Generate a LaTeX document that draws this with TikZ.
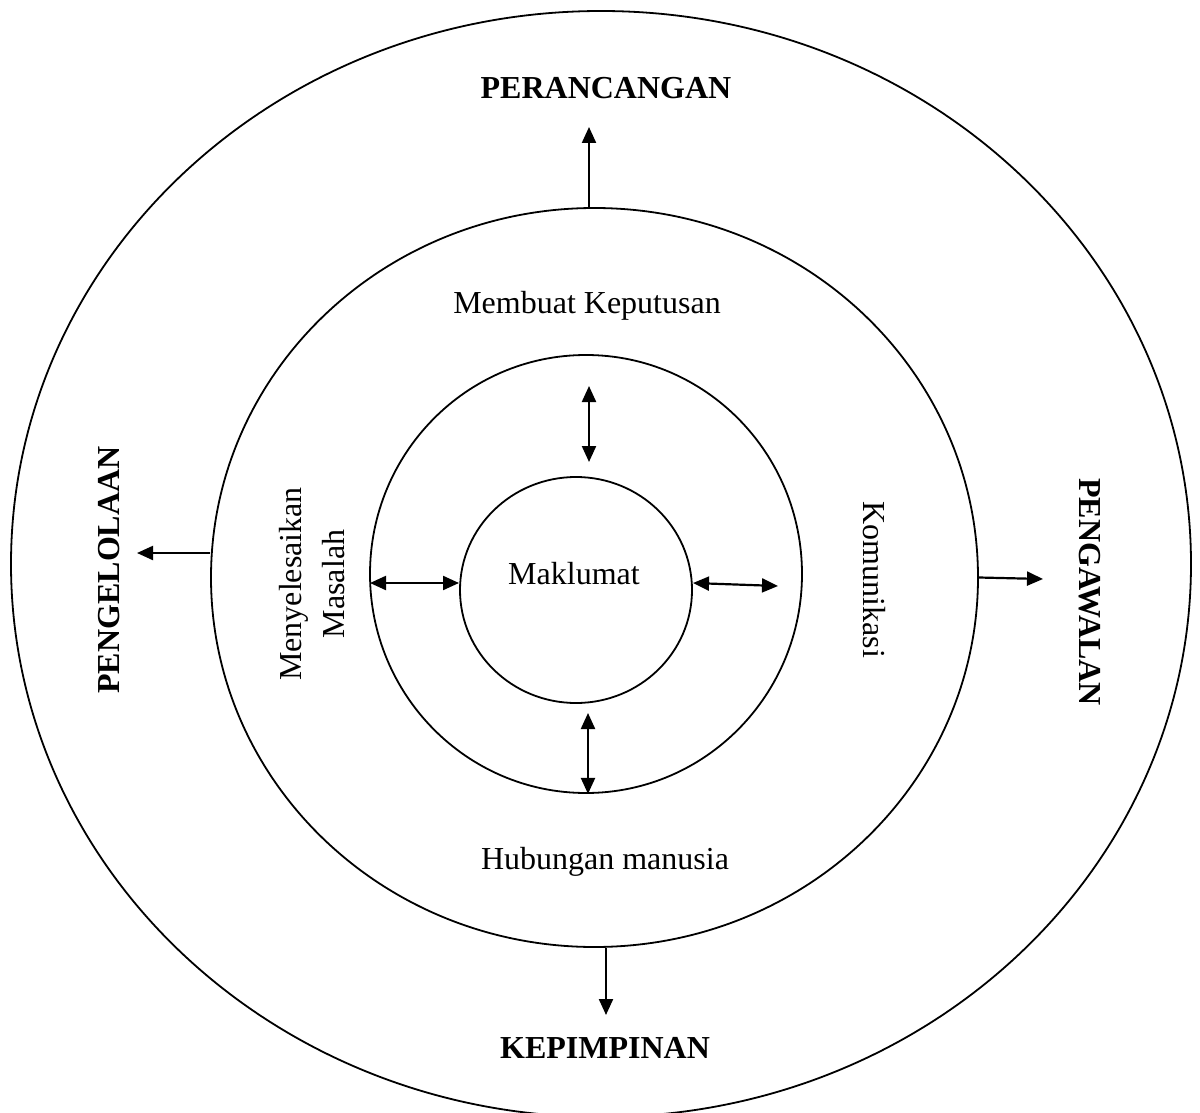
\documentclass[tikz,border=0pt]{standalone}
\usepackage{fontspec}
\setmainfont{Liberation Serif}
\usetikzlibrary{shapes.geometric,arrows.meta}

\begin{document}
\begin{tikzpicture}[
  x=0.5pt, y=-0.5pt,
  ring/.style={draw, ellipse, line width=0.9pt, inner sep=0pt},
  txt/.style={font=\fontsize{16}{21.5}\selectfont, align=center, inner sep=0pt},
  head/.style={font=\fontsize{16}{19}\selectfont\bfseries, inner sep=0pt},
  arr/.style={-{Triangle[length=8pt,width=7pt]}, line width=1.1pt},
  dbl/.style={{Triangle[length=8pt,width=7pt]}-{Triangle[length=8pt,width=7pt]}, line width=1.1pt}
]
\useasboundingbox (0,0) rectangle (1200,1113);

% Rings
\node[ring, minimum width=590pt, minimum height=553pt] (outer) at (601,564) {};
\node[ring, minimum width=383.5pt, minimum height=369.5pt] (mid) at (594.5,577.5) {};
\node[ring, minimum width=216pt, minimum height=219pt] (inner) at (586,574) {};
\node[ring, minimum width=116pt, minimum height=113pt] (core) at (576,590) {};

% Texts
\node[txt] (maklumat) at (574,574) {Maklumat};
\node[txt] (keputusan) at (587,306) {Membuat Keputusan};
\node[txt] (hubungan) at (605,862) {Hubungan manusia};
\node[txt, rotate=90] (masalah) at (312,584) {Menyelesaikan\\Masalah};
\node[txt, rotate=-90] (komunikasi) at (874,580) {Komunikasi};

% Outer labels
\node[head] (perancangan) at (606,88) {PERANCANGAN};
\node[head] (kepimpinan) at (605,1048) {KEPIMPINAN};
\node[head, rotate=90] (pengelolaan) at (109,570) {PENGELOLAAN};
\node[head, rotate=-90] (pengawalan) at (1090,592) {PENGAWALAN};

% Arrow ends
\coordinate (tipN) at (589,127);
\coordinate (tipS) at (606,1015);
\coordinate (tipW) at (137,553);
\coordinate (tipE) at (1043,579);
\coordinate (upA) at (589,386);
\coordinate (upB) at (589,462);
\coordinate (dnA) at (588,713);
\coordinate (lfA) at (370,583);
\coordinate (lfB) at (459,583);
\coordinate (rtA) at (693,583);
\coordinate (rtB) at (778,586);

% Arrows out of the middle ring
\draw[arr] (mid.north -| tipN) -- (tipN);
\draw[arr] (mid.south -| tipS) -- (tipS);
\draw[arr] (mid.west |- tipW) -- (tipW);
\draw[arr] (mid.east) -- (tipE);

% Arrows round the core
\draw[dbl] (upA) -- (upB);
\draw[dbl] (dnA) -- (inner.south -| dnA);
\draw[dbl] (lfA) -- (lfB);
\draw[dbl] (rtA) -- (rtB);
\end{tikzpicture}
\end{document}
